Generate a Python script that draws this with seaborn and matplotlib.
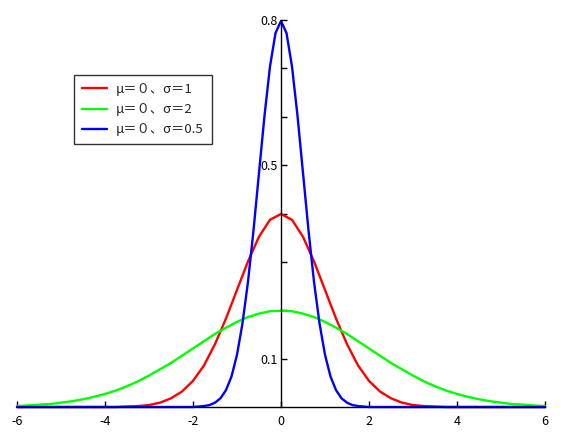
import seaborn as sns
import matplotlib.pyplot as plt

# values
x_wide = [-6, -5.75, -5.5, -5.25, -5, -4.75, -4.5, -4.25, -4, -3.75, -3.5, -3.25,
          -3, -2.75, -2.5, -2.25, -2, -1.75, -1.5, -1.25, -1, -0.75, -0.5, -0.25,
          0, 0.25, 0.5, 0.75, 1, 1.25, 1.5, 1.75, 2, 2.25, 2.5, 2.75,
          3, 3.25, 3.5, 3.75, 4, 4.25, 4.5, 4.75, 5, 5.25, 5.5, 5.75, 6]
y_sigma1 = [0, 0, 0, 0, 0, 0, 0, 0, 0, 0, 0.001, 0.002,
            0.004, 0.009, 0.018, 0.032, 0.054, 0.086, 0.130, 0.183, 0.242, 0.301, 0.352, 0.387,
            0.399, 0.387, 0.352, 0.301, 0.242, 0.183, 0.130, 0.086, 0.054, 0.032, 0.018, 0.009,
            0.004, 0.002, 0.001, 0, 0, 0, 0, 0, 0, 0, 0, 0, 0]
y_sigma2 = [0.002, 0.003, 0.005, 0.006, 0.009, 0.012, 0.016, 0.021, 0.027, 0.034, 0.043, 0.053,
            0.065, 0.078, 0.091, 0.106, 0.121, 0.136, 0.151, 0.164, 0.176, 0.186, 0.193, 0.198,
            0.199, 0.198, 0.193, 0.186, 0.176, 0.164, 0.151, 0.136, 0.121, 0.106, 0.091, 0.078,
            0.065, 0.053, 0.043, 0.034, 0.027, 0.021, 0.016, 0.012, 0.009, 0.006, 0.005, 0.003, 0.002]

x_narrow = [-6, -2, -1.875, -1.75, -1.625, -1.5, -1.375, -1.25, -1.125, -1, -0.875, -0.75,
            -0.625, -0.5, -0.375, -0.25, -0.125, 0, 0.125, 0.25, 0.375, 0.5, 0.625,
            0.75, 0.875, 1, 1.125, 1.25, 1.375, 1.5, 1.625, 1.75, 1.875, 2, 6]
y_sigma05 = [0, 0, 0.001, 0.002, 0.004, 0.009, 0.018, 0.035, 0.063, 0.108, 0.173, 0.259,
             0.365, 0.484, 0.602, 0.704, 0.773, 0.798, 0.773, 0.704, 0.602, 0.484, 0.365,
             0.259, 0.173, 0.108, 0.063, 0.035, 0.018, 0.009, 0.004, 0.002, 0.001, 0, 0]

labels = ["μ＝０、σ＝1", "μ＝０、σ＝2", "μ＝０、σ＝0.5"]
x_ticks = [-6, -4, -2, 0, 2, 4, 6]
y_ticks = [0.1, 0.2, 0.3, 0.4, 0.5, 0.6, 0.7, 0.8]
y_ticklabels = ["0.1", "", "", "", "0.5", "", "", "0.8"]

sns.set_style("white")
plt.rcParams['font.family'] = ['Noto Sans CJK JP', 'DejaVu Sans']
plt.rcParams['axes.unicode_minus'] = False

fig = plt.figure(figsize=(5.64, 4.40), dpi=100)
ax = fig.add_axes([17 / 564, 1 - 407 / 440, 528 / 564, 387 / 440])

sns.lineplot(x=x_wide, y=y_sigma1, color="#ff0000", lw=1.7, label=labels[0], ax=ax, clip_on=False)
sns.lineplot(x=x_wide, y=y_sigma2, color="#00ff00", lw=1.7, label=labels[1], ax=ax, clip_on=False)
sns.lineplot(x=x_narrow, y=y_sigma05, color="#0000ff", lw=1.7, label=labels[2], ax=ax, clip_on=False)

ax.set_xlim(-6, 6)
ax.set_ylim(0, 0.8)
ax.spines['left'].set_position(('data', 0))
ax.spines['bottom'].set_position(('data', 0))
ax.spines['top'].set_visible(False)
ax.spines['right'].set_visible(False)
for s in ['left', 'bottom']:
    ax.spines[s].set_color('black')
    ax.spines[s].set_linewidth(1)

ax.set_xticks(x_ticks)
ax.set_xticklabels([str(t) for t in x_ticks])
ax.set_yticks(y_ticks)
ax.set_yticklabels(y_ticklabels)
ax.tick_params(axis='both', direction='in', length=4, width=1, color='black',
               labelsize=9, labelcolor='black')
ax.tick_params(axis='x', bottom=True, pad=6)
ax.tick_params(axis='y', left=True, pad=2)
ax.set_xlabel("")
ax.set_ylabel("")

leg = ax.legend(loc='upper left', bbox_to_anchor=(0.108, 0.858), borderaxespad=0,
                fontsize=9.5, frameon=True, fancybox=False, handlelength=1.9,
                handletextpad=0.7, borderpad=0.6, labelspacing=0.55)
leg.get_frame().set_edgecolor('black')
leg.get_frame().set_linewidth(1)

fig.savefig("out.png", dpi=100)
